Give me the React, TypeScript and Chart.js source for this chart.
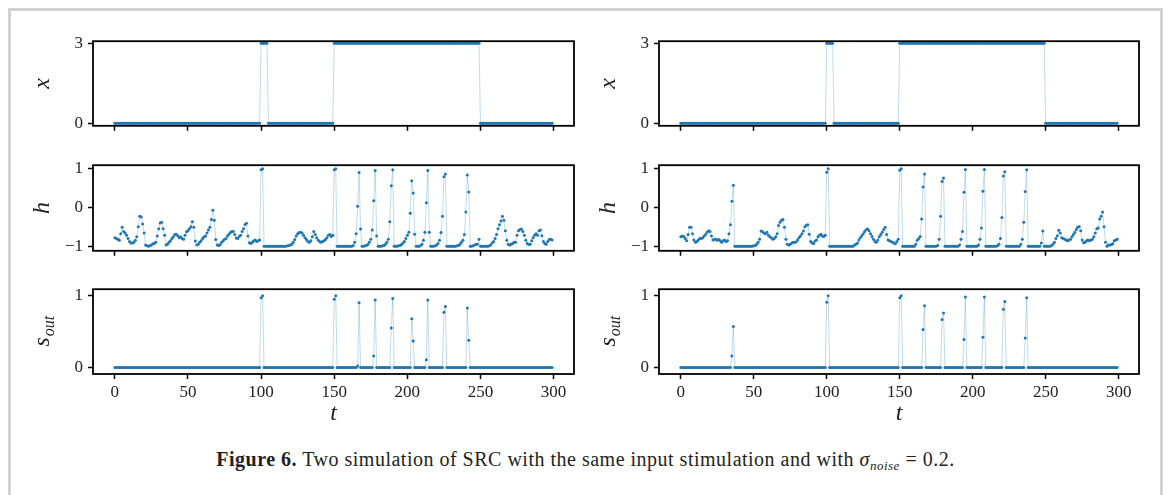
import React, { useEffect, useRef } from "react";
import { Chart, registerables } from "chart.js";

Chart.register(...registerables);

// time steps (x grid of the simulation)
const tSteps = Array.from({ length: 300 }, (_, i) => i);
const tTicks = [0, 50, 100, 150, 200, 250, 300];
const inputTicks = [0, 3];
const hTicks = [-1, 0, 1];
const sTicks = [0, 1];

// input stimulation x (same for both simulations)
const inputStim = [
  0, 0, 0, 0, 0, 0, 0, 0, 0, 0, 0, 0, 0, 0, 0, 0, 0, 0, 0, 0, 0, 0, 0, 0, 0,
  0, 0, 0, 0, 0, 0, 0, 0, 0, 0, 0, 0, 0, 0, 0, 0, 0, 0, 0, 0, 0, 0, 0, 0, 0,
  0, 0, 0, 0, 0, 0, 0, 0, 0, 0, 0, 0, 0, 0, 0, 0, 0, 0, 0, 0, 0, 0, 0, 0, 0,
  0, 0, 0, 0, 0, 0, 0, 0, 0, 0, 0, 0, 0, 0, 0, 0, 0, 0, 0, 0, 0, 0, 0, 0, 0,
  3, 3, 3, 3, 3, 0, 0, 0, 0, 0, 0, 0, 0, 0, 0, 0, 0, 0, 0, 0, 0, 0, 0, 0, 0,
  0, 0, 0, 0, 0, 0, 0, 0, 0, 0, 0, 0, 0, 0, 0, 0, 0, 0, 0, 0, 0, 0, 0, 0, 0,
  3, 3, 3, 3, 3, 3, 3, 3, 3, 3, 3, 3, 3, 3, 3, 3, 3, 3, 3, 3, 3, 3, 3, 3, 3,
  3, 3, 3, 3, 3, 3, 3, 3, 3, 3, 3, 3, 3, 3, 3, 3, 3, 3, 3, 3, 3, 3, 3, 3, 3,
  3, 3, 3, 3, 3, 3, 3, 3, 3, 3, 3, 3, 3, 3, 3, 3, 3, 3, 3, 3, 3, 3, 3, 3, 3,
  3, 3, 3, 3, 3, 3, 3, 3, 3, 3, 3, 3, 3, 3, 3, 3, 3, 3, 3, 3, 3, 3, 3, 3, 3,
  0, 0, 0, 0, 0, 0, 0, 0, 0, 0, 0, 0, 0, 0, 0, 0, 0, 0, 0, 0, 0, 0, 0, 0, 0,
  0, 0, 0, 0, 0, 0, 0, 0, 0, 0, 0, 0, 0, 0, 0, 0, 0, 0, 0, 0, 0, 0, 0, 0, 0,
];

// hidden state h, simulation 1 (left)
const hLeft = [
  -0.78, -0.8, -0.82, -0.85, -0.68, -0.51, -0.62, -0.66, -0.72, -0.8,
  -0.88, -0.92, -0.92, -0.9, -0.85, -0.76, -0.5, -0.23, -0.25, -0.43,
  -0.66, -0.97, -0.99, -1.0, -0.99, -0.97, -0.94, -0.93, -0.9, -0.74,
  -0.55, -0.4, -0.38, -0.55, -0.72, -0.97, -0.95, -0.9, -0.86, -0.8,
  -0.76, -0.7, -0.69, -0.73, -0.78, -0.76, -0.8, -0.82, -0.72, -0.63,
  -0.6, -0.55, -0.5, -0.37, -0.51, -0.87, -0.97, -0.95, -0.9, -0.86,
  -0.8, -0.76, -0.74, -0.66, -0.58, -0.51, -0.31, -0.07, -0.33, -0.83,
  -0.97, -0.98, -0.96, -0.9, -0.86, -0.82, -0.8, -0.74, -0.69, -0.65,
  -0.62, -0.62, -0.7, -0.79, -0.8, -0.75, -0.72, -0.62, -0.55, -0.44,
  -0.41, -0.74, -0.91, -0.93, -0.9, -0.86, -0.84, -0.88, -0.86, -0.84,
  0.97, 1.0, -1, -1, -1, -1, -1, -1, -1, -1,
  -1, -1, -1, -1, -1, -1, -1, -1, -0.99, -0.98,
  -0.97, -0.95, -0.9, -0.83, -0.74, -0.68, -0.65, -0.64, -0.66, -0.72,
  -0.78, -0.83, -0.88, -0.9, -0.86, -0.76, -0.62, -0.7, -0.78, -0.84,
  -0.88, -0.9, -0.88, -0.86, -0.83, -0.78, -0.72, -0.7, -0.75, -0.72,
  0.97, 1.0, -1, -1, -1, -1, -1, -1, -1, -1,
  -1, -1, -1, -0.98, -0.9, -0.68, 0.03, 0.9, -0.56, -1,
  -1, -0.99, -0.98, -0.96, -0.9, -0.82, -0.58, 0.17, 0.95, -0.74,
  -1, -1, -1, -0.99, -0.98, -0.95, -0.9, -0.82, -0.37, 0.56,
  0.97, -1, -1, -1, -0.99, -0.98, -0.96, -0.92, -0.88, -0.8,
  -0.72, -0.64, -0.15, 0.69, 0.37, -0.69, -1, -1, -1, -0.99,
  -0.95, -0.85, -0.64, 0.12, 0.95, -0.64, -1, -1, -1, -0.99,
  -0.97, -0.93, -0.85, -0.65, -0.23, 0.79, 0.86, -1, -1, -1,
  -1, -1, -1, -1, -0.99, -0.98, -0.95, -0.9, -0.85, -0.7,
  -0.12, 0.84, 0.4, -1, -1, -0.99, -0.97, -0.95, -0.95, -0.82,
  -1, -1, -1, -1, -1, -1, -0.99, -0.97, -0.92, -0.88,
  -0.8, -0.7, -0.55, -0.45, -0.35, -0.23, -0.33, -0.6, -0.85, -0.95,
  -0.97, -0.95, -0.93, -0.9, -0.9, -0.72, -0.6, -0.57, -0.56, -0.62,
  -0.72, -0.85, -0.93, -0.96, -0.95, -0.86, -0.78, -0.72, -0.68, -0.72,
  -0.6, -0.58, -0.73, -0.88, -0.93, -0.95, -0.88, -0.83, -0.82, -0.84,
];

// hidden state h, simulation 2 (right)
const hRight = [
  -0.76, -0.74, -0.75, -0.8, -0.86, -0.7, -0.51, -0.51, -0.68, -0.84,
  -0.9, -0.88, -0.84, -0.8, -0.8, -0.78, -0.74, -0.7, -0.64, -0.6,
  -0.62, -0.74, -0.84, -0.82, -0.82, -0.85, -0.83, -0.86, -0.9, -0.86,
  -0.84, -0.88, -0.86, -0.68, -0.45, 0.16, 0.57, -1, -1, -1,
  -1, -1, -1, -1, -1, -1, -1, -1, -1, -1,
  -0.99, -0.98, -0.95, -0.9, -0.82, -0.61, -0.63, -0.66, -0.68, -0.64,
  -0.72, -0.76, -0.78, -0.82, -0.8, -0.76, -0.68, -0.47, -0.38, -0.33,
  -0.31, -0.51, -0.82, -0.95, -0.97, -0.95, -0.92, -0.9, -0.9, -0.89,
  -0.84, -0.78, -0.74, -0.68, -0.61, -0.5, -0.46, -0.45, -0.69, -0.88,
  -0.92, -0.93, -0.87, -0.84, -0.76, -0.72, -0.69, -0.74, -0.75, -0.72,
  0.91, 1.0, -1, -1, -1, -1, -1, -1, -1, -1,
  -1, -1, -1, -1, -1, -1, -1, -1, -1, -0.97,
  -0.95, -0.92, -0.84, -0.78, -0.73, -0.68, -0.62, -0.57, -0.56, -0.6,
  -0.68, -0.75, -0.82, -0.88, -0.9, -0.84, -0.76, -0.7, -0.64, -0.57,
  -0.51, -0.7, -0.84, -0.86, -0.88, -0.9, -0.92, -0.94, -0.88, -0.82,
  0.96, 1.0, -1, -1, -1, -1, -1, -1, -1, -1,
  -1, -0.95, -0.85, -0.8, -0.75, -0.3, 0.53, 0.86, -1, -1,
  -1, -1, -1, -1, -1, -1, -0.98, -0.82, -0.23, 0.67,
  0.76, -1, -1, -1, -1, -1, -1, -1, -1, -1,
  -1, -0.97, -0.82, -0.62, 0.39, 0.98, -1, -1, -1, -1,
  -1, -1, -1, -1, -0.97, -0.82, -0.53, 0.42, 0.98, -1,
  -1, -1, -1, -1, -1, -1, -1, -0.99, -0.95, -0.8,
  -0.26, 0.81, 0.92, -1, -1, -1, -1, -1, -1, -1,
  -1, -1, -1, -0.95, -0.82, -0.38, 0.41, 0.97, -1, -1,
  -1, -1, -1, -1, -1, -1, -1, -0.92, -0.61, -1,
  -1, -1, -1, -1, -0.98, -0.95, -0.9, -0.8, -0.73, -0.59,
  -0.66, -0.78, -0.8, -0.82, -0.84, -0.86, -0.84, -0.82, -0.76, -0.7,
  -0.64, -0.57, -0.51, -0.49, -0.6, -0.84, -0.91, -0.9, -0.86, -0.84,
  -0.86, -0.84, -0.82, -0.76, -0.66, -0.55, -0.53, -0.3, -0.23, -0.12,
  -0.5, -0.9, -1, -0.97, -0.97, -0.96, -0.94, -0.86, -0.84, -0.82,
];

// output s_out, simulation 1 (left)
const sOutLeft = [
  0, 0, 0, 0, 0, 0, 0, 0, 0, 0, 0, 0, 0, 0, 0, 0, 0, 0, 0, 0,
  0, 0, 0, 0, 0, 0, 0, 0, 0, 0, 0, 0, 0, 0, 0, 0, 0, 0, 0, 0,
  0, 0, 0, 0, 0, 0, 0, 0, 0, 0, 0, 0, 0, 0, 0, 0, 0, 0, 0, 0,
  0, 0, 0, 0, 0, 0, 0, 0, 0, 0, 0, 0, 0, 0, 0, 0, 0, 0, 0, 0,
  0, 0, 0, 0, 0, 0, 0, 0, 0, 0, 0, 0, 0, 0, 0, 0, 0, 0, 0, 0,
  0.97, 1.0, 0, 0, 0, 0, 0, 0, 0, 0, 0, 0, 0, 0, 0, 0, 0, 0, 0, 0,
  0, 0, 0, 0, 0, 0, 0, 0, 0, 0, 0, 0, 0, 0, 0, 0, 0, 0, 0, 0,
  0, 0, 0, 0, 0, 0, 0, 0, 0, 0, 0.95, 1.0, 0, 0, 0, 0, 0, 0, 0, 0,
  0, 0, 0, 0, 0, 0, 0.02, 0.9, 0, 0, 0, 0, 0, 0, 0, 0, 0, 0.16, 0.94, 0,
  0, 0, 0, 0, 0, 0, 0, 0, 0, 0.55, 0.96, 0, 0, 0, 0, 0, 0, 0, 0, 0,
  0, 0, 0, 0.68, 0.37, 0, 0, 0, 0, 0, 0, 0, 0, 0.11, 0.94, 0, 0, 0, 0, 0,
  0, 0, 0, 0, 0, 0.77, 0.85, 0, 0, 0, 0, 0, 0, 0, 0, 0, 0, 0, 0, 0,
  0, 0.83, 0.38, 0, 0, 0, 0, 0, 0, 0, 0, 0, 0, 0, 0, 0, 0, 0, 0, 0,
  0, 0, 0, 0, 0, 0, 0, 0, 0, 0, 0, 0, 0, 0, 0, 0, 0, 0, 0, 0,
  0, 0, 0, 0, 0, 0, 0, 0, 0, 0, 0, 0, 0, 0, 0, 0, 0, 0, 0, 0,
];

// output s_out, simulation 2 (right)
const sOutRight = [
  0, 0, 0, 0, 0, 0, 0, 0, 0, 0, 0, 0, 0, 0, 0, 0, 0, 0, 0, 0,
  0, 0, 0, 0, 0, 0, 0, 0, 0, 0, 0, 0, 0, 0, 0, 0.16, 0.57, 0, 0, 0,
  0, 0, 0, 0, 0, 0, 0, 0, 0, 0, 0, 0, 0, 0, 0, 0, 0, 0, 0, 0,
  0, 0, 0, 0, 0, 0, 0, 0, 0, 0, 0, 0, 0, 0, 0, 0, 0, 0, 0, 0,
  0, 0, 0, 0, 0, 0, 0, 0, 0, 0, 0, 0, 0, 0, 0, 0, 0, 0, 0, 0,
  0.91, 1.0, 0, 0, 0, 0, 0, 0, 0, 0, 0, 0, 0, 0, 0, 0, 0, 0, 0, 0,
  0, 0, 0, 0, 0, 0, 0, 0, 0, 0, 0, 0, 0, 0, 0, 0, 0, 0, 0, 0,
  0, 0, 0, 0, 0, 0, 0, 0, 0, 0, 0.97, 1.0, 0, 0, 0, 0, 0, 0, 0, 0,
  0, 0, 0, 0, 0, 0, 0.53, 0.86, 0, 0, 0, 0, 0, 0, 0, 0, 0, 0, 0, 0.67,
  0.76, 0, 0, 0, 0, 0, 0, 0, 0, 0, 0, 0, 0, 0, 0.39, 0.98, 0, 0, 0, 0,
  0, 0, 0, 0, 0, 0, 0, 0.42, 0.98, 0, 0, 0, 0, 0, 0, 0, 0, 0, 0, 0,
  0, 0.81, 0.92, 0, 0, 0, 0, 0, 0, 0, 0, 0, 0, 0, 0, 0, 0.41, 0.97, 0, 0,
  0, 0, 0, 0, 0, 0, 0, 0, 0, 0, 0, 0, 0, 0, 0, 0, 0, 0, 0, 0,
  0, 0, 0, 0, 0, 0, 0, 0, 0, 0, 0, 0, 0, 0, 0, 0, 0, 0, 0, 0,
  0, 0, 0, 0, 0, 0, 0, 0, 0, 0, 0, 0, 0, 0, 0, 0, 0, 0, 0, 0,
];

const SERIF = '"Liberation Serif", "Times New Roman", serif';
const PADL = 90;
const PADT = 12;
const PADR = 12;

type PanelProps = {
  plotLeft: number;
  plotRight: number;
  plotTop: number;
  plotBottom: number;
  values: number[];
  yMin: number;
  yMax: number;
  yTicks: number[];
  yTitle: string;
  showX: boolean;
};

function fmt(v: number): string {
  return v < 0 ? "\u2212" + String(Math.abs(v)) : String(v);
}

function Panel(p: PanelProps) {
  const ref = useRef<HTMLCanvasElement | null>(null);
  const xH = p.showX ? 60 : 14;
  const w = p.plotRight - p.plotLeft + PADL + PADR;
  const h = p.plotBottom - p.plotTop + PADT + xH;

  useEffect(() => {
    if (!ref.current) return;
    const decor = {
      id: "decor",
      afterDraw(chart: any) {
        const { ctx, chartArea: a } = chart;
        ctx.save();
        ctx.strokeStyle = "#000";
        ctx.lineWidth = 1.8;
        ctx.strokeRect(a.left, a.top, a.right - a.left, a.bottom - a.top);
        ctx.restore();

        ctx.save();
        ctx.fillStyle = "#222";
        ctx.textBaseline = "alphabetic";
        ctx.translate(a.left - 44, (a.top + a.bottom) / 2);
        ctx.rotate(-Math.PI / 2);
        if (p.yTitle === "s_out") {
          ctx.font = `italic 24px ${SERIF}`;
          const sw = ctx.measureText("s").width;
          ctx.font = `italic 16px ${SERIF}`;
          const ow = ctx.measureText("out").width;
          const start = -(sw + ow) / 2;
          ctx.textAlign = "left";
          ctx.font = `italic 24px ${SERIF}`;
          ctx.fillText("s", start, 0);
          ctx.font = `italic 16px ${SERIF}`;
          ctx.fillText("out", start + sw + 1, 5);
        } else {
          ctx.font = `italic 24px ${SERIF}`;
          ctx.textAlign = "center";
          ctx.fillText(p.yTitle, 0, 0);
        }
        ctx.restore();

        if (p.showX) {
          ctx.save();
          ctx.fillStyle = "#222";
          ctx.font = `italic 24px ${SERIF}`;
          ctx.textAlign = "center";
          ctx.textBaseline = "alphabetic";
          ctx.fillText("t", (a.left + a.right) / 2, a.bottom + 46);
          ctx.restore();
        }
      },
    };

    const chart = new Chart(ref.current, {
      type: "scatter",
      data: {
        datasets: [
          {
            data: tSteps.map((t, i) => ({ x: t, y: p.values[i] })),
            showLine: true,
            borderColor: "rgba(31,119,180,0.35)",
            borderWidth: 0.8,
            pointRadius: 1.5,
            pointHoverRadius: 1.5,
            pointBackgroundColor: "#1f77b4",
            pointBorderWidth: 0,
          },
        ],
      },
      options: {
        responsive: false,
        animation: false,
        devicePixelRatio: 1,
        events: [],
        layout: { padding: { left: 0, top: PADT, right: PADR, bottom: 0 } },
        plugins: {
          legend: { display: false },
          tooltip: { enabled: false },
        },
        scales: {
          x: {
            type: "linear",
            min: -14.95,
            max: 313.95,
            afterBuildTicks: (s: any) => {
              s.ticks = tTicks.map((v) => ({ value: v }));
            },
            afterFit: (s: any) => {
              s.height = xH;
            },
            grid: {
              display: true,
              drawOnChartArea: false,
              drawTicks: true,
              tickLength: 5,
              tickWidth: 1.5,
              tickColor: "#000",
            },
            border: { display: false },
            ticks: {
              display: p.showX,
              autoSkip: false,
              maxRotation: 0,
              padding: 3,
              color: "#222",
              font: { family: SERIF, size: 17 },
              callback: (v: any) => fmt(Number(v)),
            },
          },
          y: {
            type: "linear",
            min: p.yMin,
            max: p.yMax,
            afterBuildTicks: (s: any) => {
              s.ticks = p.yTicks.map((v) => ({ value: v }));
            },
            afterFit: (s: any) => {
              s.width = PADL;
            },
            grid: {
              display: true,
              drawOnChartArea: false,
              drawTicks: true,
              tickLength: 5,
              tickWidth: 1.5,
              tickColor: "#000",
            },
            border: { display: false },
            ticks: {
              autoSkip: false,
              padding: 5,
              color: "#222",
              font: { family: SERIF, size: 17 },
              callback: (v: any) => fmt(Number(v)),
            },
          },
        },
      } as any,
      plugins: [decor],
    });
    return () => chart.destroy();
  }, []);

  return (
    <canvas
      ref={ref}
      width={w}
      height={h}
      style={{
        position: "absolute",
        left: p.plotLeft - PADL,
        top: p.plotTop - PADT,
        width: w,
        height: h,
      }}
    />
  );
}

const colLeft = [93, 659];
const colRight = [574, 1139];
const rowTop = [38, 162, 286];
const rowBottom = [127, 252, 374];

export default function App() {
  const cols = [
    { h: hLeft, s: sOutLeft },
    { h: hRight, s: sOutRight },
  ];
  return (
    <div
      style={{
        position: "absolute",
        left: 0,
        top: 0,
        width: 1170,
        height: 495,
        overflow: "hidden",
        background: "#fff",
      }}
    >
      <div
        style={{
          position: "absolute",
          left: 8,
          top: 8,
          width: 1155,
          height: 600,
          boxSizing: "border-box",
          border: "3px solid #d2d2d2",
        }}
      />
      {cols.map((c, ci) => (
        <React.Fragment key={ci}>
          <Panel
            plotLeft={colLeft[ci]}
            plotRight={colRight[ci]}
            plotTop={rowTop[0]}
            plotBottom={rowBottom[0]}
            values={inputStim}
            yMin={-0.1}
            yMax={3.08}
            yTicks={inputTicks}
            yTitle="x"
            showX={false}
          />
          <Panel
            plotLeft={colLeft[ci]}
            plotRight={colRight[ci]}
            plotTop={rowTop[1]}
            plotBottom={rowBottom[1]}
            values={c.h}
            yMin={-1.12}
            yMax={1.09}
            yTicks={hTicks}
            yTitle="h"
            showX={false}
          />
          <Panel
            plotLeft={colLeft[ci]}
            plotRight={colRight[ci]}
            plotTop={rowTop[2]}
            plotBottom={rowBottom[2]}
            values={c.s}
            yMin={-0.09}
            yMax={1.09}
            yTicks={sTicks}
            yTitle="s_out"
            showX={true}
          />
        </React.Fragment>
      ))}
      <div
        style={{
          position: "absolute",
          left: 8,
          width: 1155,
          top: 448,
          textAlign: "center",
          fontFamily: SERIF,
          fontSize: 20,
          letterSpacing: "0.5px",
          lineHeight: "22px",
          color: "#231f20",
          whiteSpace: "nowrap",
        }}
      >
        <b>Figure 6.</b> Two simulation of SRC with the same input stimulation and with{" "}
        <i>σ</i>
        <span style={{ fontSize: 13, fontStyle: "italic", position: "relative", top: 4 }}>noise</span>{" "}
        = 0.2.
      </div>
    </div>
  );
}
